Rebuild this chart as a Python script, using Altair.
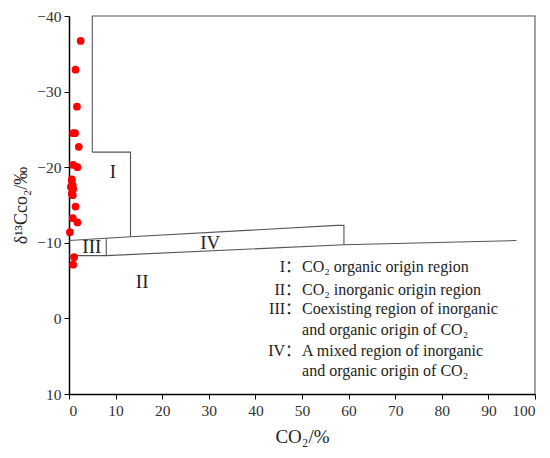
import altair as alt
import pandas as pd

# Sample points (CO2 %, delta13C CO2 permil)
pt_x = [2.5, 1.4, 1.7, 0.9, 1.3, 2.1, 0.9, 1.8, 0.6, 0.8, 0.9, 0.6, 0.8, 1.4, 0.8, 1.8, 0.2, 1.1, 0.9, 0.4, 0.6]
pt_y = [-36.7, -32.9, -28.0, -24.5, -24.5, -22.7, -20.3, -20.0, -18.2, -17.6, -17.1, -16.5, -16.3, -14.8, -13.25, -12.7, -11.4, -8.1, -7.1, -17.4, -18.4]

# Region boundary polylines
seg_id = ["a", "a", "a", "a",
          "b", "b", "b",
          "c", "c", "c", "c", "c",
          "d", "d", "d", "d",
          "e", "e"]
seg_x = [5, 5, 100, 100,
         5, 13.2, 13.2,
         0, 13.2, 57.5, 59, 59,
         0, 8, 59, 96,
         8, 8]
seg_y = [-22, -40, -40, 10,
         -22, -22, -10.8,
         -10.3, -10.8, -12.3, -12.3, -9.7,
         -8.3, -8.3, -9.75, -10.3,
         -8.3, -10.58]

# Region labels
reg_lab = ["I", "II", "III", "IV"]
reg_x = [9.4, 15.7, 4.9, 30.3]
reg_y = [-19.4, -4.8, -9.4, -10.0]

# Legend text
leg_num = ["I：", "II：", "III：", "", "IV：", ""]
leg_txt = ["CO₂ organic origin region", "CO₂ inorganic origin region",
           "Coexisting region of inorganic", "and organic origin of CO₂",
           "A mixed region of inorganic", "and organic origin of CO₂"]
leg_y = [-6.75, -3.8, -1.3, 1.55, 4.3, 7.0]
leg_x = 49.8

xs = alt.Scale(domain=[0, 100], nice=False, zero=False)
ys = alt.Scale(domain=[-40, 10], reverse=True, nice=False, zero=False)

pts = pd.DataFrame({"x": pt_x, "y": pt_y})
segs = pd.DataFrame({"seg": seg_id, "x": seg_x, "y": seg_y, "o": list(range(len(seg_x)))})
regs = pd.DataFrame({"t": reg_lab, "x": reg_x, "y": reg_y})
legd = pd.DataFrame({"n": leg_num, "t": leg_txt, "y": leg_y, "x": [leg_x] * len(leg_y)})

FONT = "Liberation Serif"

lines = alt.Chart(segs).mark_line(color="#555555", strokeWidth=1.1).encode(
    x=alt.X("x:Q", scale=xs,
            axis=alt.Axis(values=list(range(0, 101, 10)), title="CO₂/%", grid=False,
                          domainColor="black", domainWidth=1.5, tickColor="black", tickSize=5,
                          labelFont=FONT, labelFontSize=15.5, labelColor="#333333",
                          titleFont=FONT, titleFontSize=19, titleFontWeight="normal",
                          titleColor="#222222", titlePadding=9, labelPadding=4)),
    y=alt.Y("y:Q", scale=ys,
            axis=alt.Axis(values=[-40, -30, -20, -10, 0, 10], title="δ¹³Cco₂/‰", grid=False,
                          domainColor="black", domainWidth=1.5, tickColor="black", tickSize=5,
                          labelFont=FONT, labelFontSize=15.5, labelColor="#333333",
                          titleFont=FONT, titleFontSize=18, titleFontWeight="normal",
                          titleColor="#222222", titlePadding=6, labelPadding=3)),
    detail="seg:N",
    order="o:Q",
)

points = alt.Chart(pts).mark_circle(color="#ff0000", opacity=1, size=60).encode(
    x=alt.X("x:Q", scale=xs), y=alt.Y("y:Q", scale=ys)
)

rlabels = alt.Chart(regs).mark_text(font=FONT, fontSize=19, color="#222222").encode(
    x=alt.X("x:Q", scale=xs), y=alt.Y("y:Q", scale=ys), text="t:N"
)

lnum = alt.Chart(legd).mark_text(font="Liberation Serif, Noto Sans CJK SC", fontSize=16,
                                 color="#222222", align="right").encode(
    x=alt.X("x:Q", scale=xs), y=alt.Y("y:Q", scale=ys), text="n:N"
)
ltxt = alt.Chart(legd).mark_text(font=FONT, fontSize=16, color="#222222", align="left", dx=1).encode(
    x=alt.X("x:Q", scale=xs), y=alt.Y("y:Q", scale=ys), text="t:N"
)

chart = alt.layer(lines, points, rlabels, lnum, ltxt).properties(
    width=466, height=378,
    autosize=alt.AutoSizeParams(type="none"),
    padding={"left": 61, "top": 8, "right": 7, "bottom": 56},
).configure_view(stroke=None)

chart.save("out.html", embed_options={"renderer": "svg", "actions": False})
